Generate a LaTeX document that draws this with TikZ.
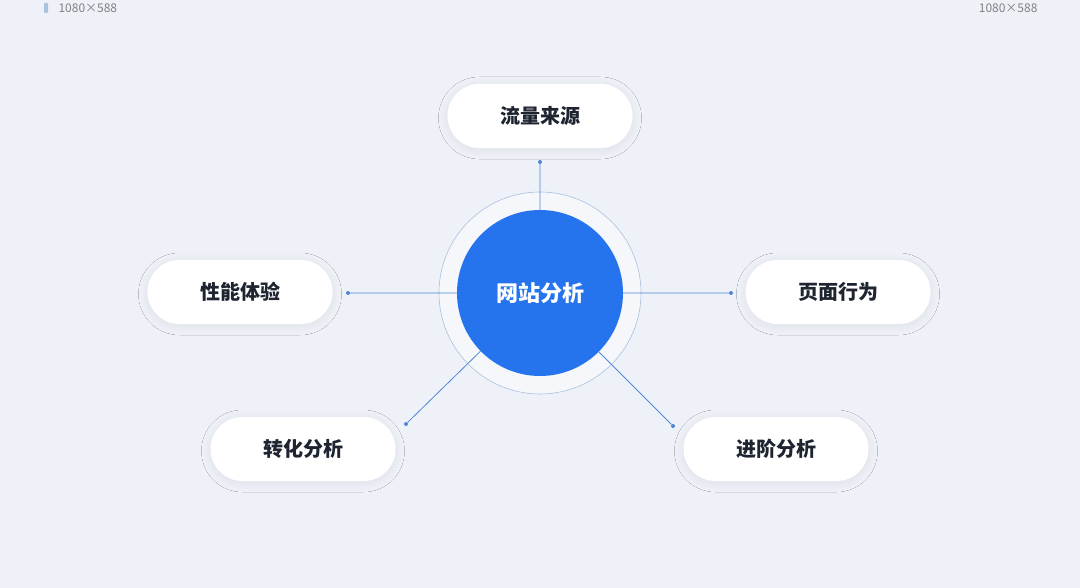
\documentclass[tikz,border=0pt]{standalone}
\usepackage{fontspec}
\setmainfont{Noto Sans CJK SC}
\usetikzlibrary{positioning,shapes.geometric,shadows.blur}
\definecolor{bgblue}{HTML}{EEF2F8}
\definecolor{hubblue}{HTML}{2673EE}
\definecolor{linkblue}{HTML}{4F86D6}
\definecolor{ringblue}{HTML}{A9C0E0}
\definecolor{txtdark}{HTML}{1E2430}

\begin{document}
\begin{tikzpicture}[%
			x=1pt, y=-1pt,
			font=\bfseries\fontsize{20}{24}\selectfont,
			link/.style={%
				draw=linkblue,
				line width=0.8pt
			},
			topic/.style={%
				rounded corners=32pt,
				minimum width=185pt,
				minimum height=64pt,
				fill=white,
				text=txtdark,
				blur shadow={shadow blur steps=10, shadow blur radius=9pt, shadow xshift=0pt, shadow yshift=-2pt, shadow opacity=7}
			},
			dot/.style={%
				circle,
				fill=linkblue,
				inner sep=0pt,
				minimum size=4pt
			}
			]
			\fill[bgblue] (0,0) rectangle (1080,588);
			\useasboundingbox (0,0) rectangle (1080,588);
			\node[font=\mdseries\fontsize{12}{14}\selectfont, text=gray, anchor=west] (sizeL) at (55,8) {1080×588};
			\fill[ringblue, rounded corners=1pt] (44,3) rectangle (48,13);
			\node[font=\mdseries\fontsize{12}{14}\selectfont, text=gray, anchor=east] (sizeR) at (1041,8) {1080×588};
			\node[circle, draw=ringblue, line width=0.6pt, fill=white, fill opacity=0.45, minimum size=202pt] (ring) at (540,293) {};
			\node[circle, fill=hubblue, minimum size=166pt, text=white, font=\bfseries\fontsize{22}{26}\selectfont] (hub) at (540,293) {网站分析};
			\node[topic] (traffic)  at (540,116) {流量来源};
			\node[topic] (perf)     at (240,292) {性能体验};
			\node[topic] (page)     at (838,292) {页面行为};
			\node[topic] (convert)  at (303,449) {转化分析};
			\node[topic] (advanced) at (776,449) {进阶分析};
			\node[dot] (d1) at (540,162) {};
			\node[dot] (d2) at (348,293) {};
			\node[dot] (d3) at (731,293) {};
			\node[dot] (d4) at (406,424) {};
			\node[dot] (d5) at (673,426) {};
			\path[link] (hub) -- (d1)
			(hub) -- (d2)
			(hub) -- (d3)
			(hub) -- (d4)
			(hub) -- (d5);
			\end{tikzpicture}
\end{document}
